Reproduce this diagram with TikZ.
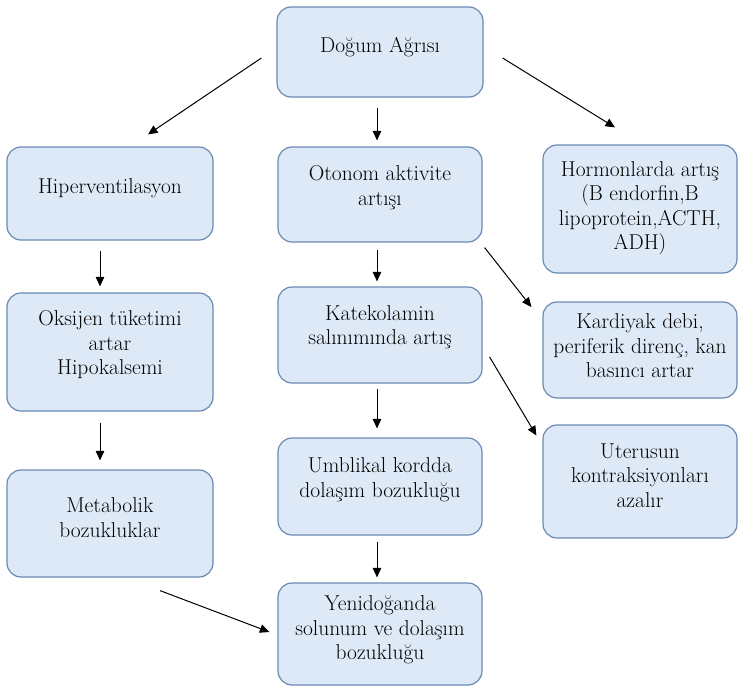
\documentclass[tikz,border=0pt]{standalone}
\usepackage{fontspec}
\usetikzlibrary{arrows.meta,calc}
\definecolor{boxfill}{HTML}{DDE9F6}
\definecolor{boxedge}{HTML}{6A8AB4}
\begin{document}
\begin{tikzpicture}[x=1pt,y=-1pt,
  box/.style={draw=boxedge, fill=boxfill, line width=1.2pt, rounded corners=14pt, inner sep=0pt},
  txt/.style={align=center, font=\rmfamily\fontsize{21.5}{24.5}\selectfont, inner sep=0pt, text=black},
  arr/.style={line width=1pt, -{Triangle[length=9.5pt,width=8.5pt]}}]
\useasboundingbox (0,0) rectangle (739,691);

% boxes
\node[box, minimum width=206pt, minimum height=90pt]  (A) at (380,52)    {};
\node[box, minimum width=206pt, minimum height=93pt]  (B) at (110,193.5) {};
\node[box, minimum width=204pt, minimum height=95pt]  (C) at (380,194.5) {};
\node[box, minimum width=194pt, minimum height=128pt] (D) at (640,209)   {};
\node[box, minimum width=206pt, minimum height=118pt] (E) at (110,352)   {};
\node[box, minimum width=204pt, minimum height=96pt]  (F) at (380,335)   {};
\node[box, minimum width=194pt, minimum height=96pt]  (G) at (640,350)   {};
\node[box, minimum width=194pt, minimum height=113pt] (H) at (640,481.5) {};
\node[box, minimum width=206pt, minimum height=107pt] (I) at (110,523.5) {};
\node[box, minimum width=204pt, minimum height=97pt]  (J) at (380,486.5) {};
\node[box, minimum width=204pt, minimum height=102pt] (K) at (380,634)   {};

% texts
\node[txt] (At) at ($(A)+(0,-5)$) {Doğum Ağrısı};
\node[txt] (Bt) at ($(B)+(0,-5)$) {Hiperventilasyon};
\node[txt] (Ct) at ($(C)+(0,-7)$) {Otonom aktivite\\artışı};
\node[txt] (Dt) at ($(D)+(0,-1)$) {Hormonlarda artış\\(B endorfin,B\\lipoprotein,ACTH,\\ADH)};
\node[txt] (Et) at ($(E)+(0,-7)$) {Oksijen tüketimi\\artar\\Hipokalsemi};
\node[txt] (Ft) at ($(F)+(0,-8)$) {Katekolamin\\salınımında artış};
\node[txt] (Gt) at ($(G)+(0,-4)$) {Kardiyak debi,\\periferik direnç, kan\\basıncı artar};
\node[txt] (Ht) at ($(H)+(0,-6)$) {Uterusun\\kontraksiyonları\\azalır};
\node[txt] (It) at ($(I)+(0,-6)$) {Metabolik\\bozukluklar};
\node[txt] (Jt) at ($(J)+(0,-7)$) {Umblikal kordda\\dolaşım bozukluğu};
\node[txt] (Kt) at ($(K)+(0,-4)$) {Yenidoğanda\\solunum ve dolaşım\\bozukluğu};

% connectors
\draw[arr] ($(A.west)+(-15,6)$) -- ($(B.north)+(38,-12)$);
\draw[arr] ($(A.east)+(19,6)$) -- ($(D.north)+(-25,-17)$);
\draw[arr] ($(A.south)+(-3,10)$) -- ($(C.north)+(-3,-6)$);
\draw[arr] ($(B.south)+(-10,10)$) -- ($(E.north)+(-10,-6)$);
\draw[arr] ($(E.south)+(-10,11)$) -- ($(I.north)+(-10,-9)$);
\draw[arr] ($(C.south)+(-3,7)$) -- ($(F.north)+(-3,-5)$);
\draw[arr] ($(F.south)+(-3,5)$) -- ($(J.north)+(-3,-9)$);
\draw[arr] ($(J.south)+(-3,6)$) -- ($(K.north)+(-3,-5)$);
\draw[arr] ($(C.south east)+(2,5)$) -- ($(G.west)+(-11,-43)$);
\draw[arr] ($(F.east)+(7,22)$) -- ($(H.west)+(-6,-46)$);
\draw[arr] ($(I.south)+(50,13)$) -- ($(K.west)+(-8,-2)$);
\end{tikzpicture}
\end{document}
